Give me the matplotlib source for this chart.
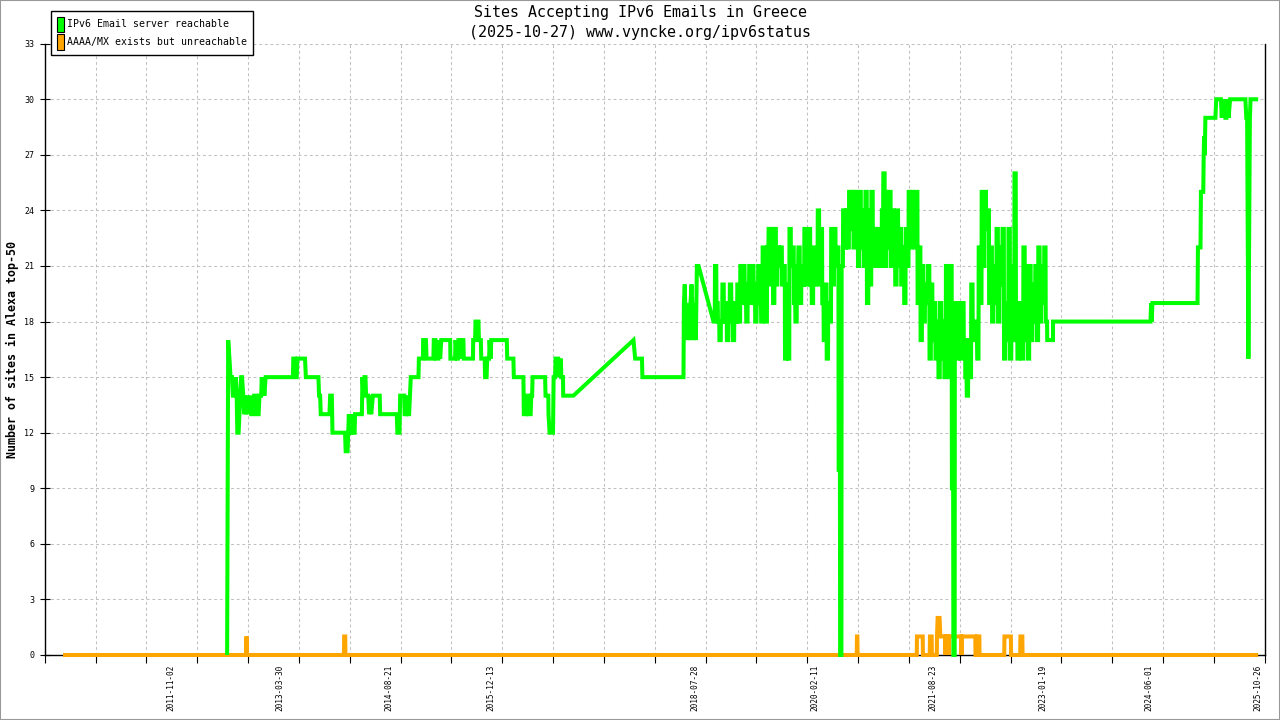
import numpy as np
import matplotlib
matplotlib.use("Agg")
import matplotlib.pyplot as plt
import matplotlib.dates as mdates
from matplotlib.patches import Patch, Rectangle

# ---------------- data ----------------
START_DATE = "2010-06-13"          # day 0 of the series

# sparse readings (day offset from START_DATE, sites reachable)
green_days_a = [
    771, 776, 782, 787, 794, 798, 808, 812, 816, 819,
    825, 829, 832, 837, 841, 847, 851, 855, 860, 865,
    871, 879, 884, 894, 898, 907, 912, 919, 923, 931,
    934, 938, 941, 946, 952, 1080, 1082, 1090, 1094, 1098,
    1101, 1137, 1141, 1200, 1203, 1208, 1211, 1252, 1255, 1263,
    1266, 1325, 1328, 1337, 1340, 1343, 1346, 1354, 1357, 1360,
    1370, 1372, 1404, 1407, 1411, 1416, 1421, 1424, 1434, 1438,
    1443, 1448, 1456, 1488, 1490, 1568, 1571, 1581, 1584, 1603,
    1605, 1612, 1614, 1618, 1626, 1630, 1634, 1670, 1672, 1691,
    1692, 1705, 1708, 1740, 1742, 1750, 1752, 1764, 1766, 1772,
    1777, 1819, 1820, 1842, 1844, 1852, 1856, 1858, 1866, 1867,
    1875, 1881, 1883, 1926, 1927, 1936, 1938, 1952, 1954, 1963,
    1965, 1981, 1983, 1990, 1993, 2002, 2004, 2009, 2012, 2085,
    2087, 2116, 2118, 2163, 2165, 2176, 2179, 2186, 2187, 2197,
    2200, 2204, 2206, 2265, 2267, 2280, 2281, 2286, 2302, 2303,
    2305, 2312, 2314, 2326, 2328, 2339, 2341, 2349, 2350, 2398,
    2680, 2688, 2720, 2722, 2915, 2917, 2921, 2925, 2928, 2935,
    2940, 2945, 2948, 2953, 2958, 2963, 2968, 2973, 2978, 2986,
]
green_vals_a = [
    0, 17, 16, 15, 15, 14, 14, 15, 14, 12,
    12, 13, 14, 15, 15, 14, 13, 14, 13, 14,
    13, 14, 13, 13, 14, 14, 13, 13, 14, 14,
    15, 14, 15, 14, 15, 15, 16, 16, 15, 15,
    16, 16, 15, 15, 14, 14, 13, 13, 14, 14,
    12, 12, 11, 11, 12, 13, 12, 12, 13, 12,
    12, 13, 13, 15, 14, 15, 15, 14, 14, 13,
    14, 13, 14, 14, 13, 13, 12, 12, 14, 14,
    13, 13, 14, 13, 13, 14, 15, 15, 16, 16,
    17, 17, 16, 16, 17, 17, 16, 16, 17, 16,
    17, 17, 16, 16, 17, 16, 16, 17, 17, 16,
    17, 17, 16, 16, 17, 17, 18, 18, 17, 17,
    16, 16, 15, 15, 16, 16, 17, 16, 17, 17,
    16, 16, 15, 15, 13, 13, 14, 14, 13, 13,
    14, 14, 15, 15, 14, 14, 13, 12, 12, 13,
    15, 15, 16, 16, 15, 16, 15, 15, 14, 14,
    17, 16, 16, 15, 15, 19, 20, 18, 19, 17,
    19, 17, 19, 20, 18, 17, 19, 17, 21, 21,
]

# dense period: weekly readings starting at day 3056
weekly_start_day = 3056
green_weekly = [
    18, 21, 19, 18, 17, 18, 20, 18, 19, 17,
    18, 20, 19, 17, 19, 18, 20, 18, 21, 19,
    21, 19, 18, 20, 21, 19, 21, 20, 18, 19,
    21, 19, 18, 22, 20, 18, 22, 23, 20, 23,
    19, 23, 20, 22, 21, 22, 20, 21, 16, 20,
    16, 23, 21, 22, 19, 18, 21, 22, 19, 21,
    20, 23, 20, 22, 23, 20, 19, 22, 20, 21,
    24, 20, 23, 19, 17, 20, 16, 19, 18, 23,
    20, 23, 21, 22, 10, 0, 21, 24, 22, 24,
    22, 25, 23, 25, 22, 25, 23, 21, 25, 22,
    24, 21, 25, 19, 24, 20, 25, 21, 23, 21,
    23, 22, 21, 24, 26, 21, 25, 22, 25, 21,
    24, 22, 20, 24, 21, 23, 20, 22, 19, 23,
    21, 25, 22, 25, 23, 22, 25, 19, 22, 17,
    21, 18, 20, 19, 21, 16, 20, 17, 19, 16,
    18, 15, 19, 16, 18, 15, 21, 17, 15, 21,
    9, 0, 19, 16, 19, 17, 16, 19, 17, 15,
    14, 17, 15, 20, 17, 18, 17, 16, 22, 19,
    25, 21, 25, 23, 24, 19, 22, 18, 21, 19,
    23, 18, 22, 20, 23, 16, 19, 17, 23, 16,
    21, 17, 26, 19, 16, 19, 17, 16, 22, 17,
    21, 16, 21, 17, 20, 18, 21, 17, 22, 18,
    21, 19, 22, 18, 17, 17, 17, 17,
]

green_days_b = [4651, 5109, 5112, 5115, 5118, 5330, 5332, 5344, 5346, 5357,
                5359, 5361, 5364, 5367, 5414, 5418, 5440, 5444, 5447, 5452,
                5457, 5461, 5466, 5471, 5476, 5483, 5555, 5559, 5563, 5566,
                5569, 5573, 5576, 5579, 5615]
green_vals_b = [18, 18, 19, 18, 19, 19, 22, 22, 25, 25,
                27, 28, 27, 29, 29, 30, 30, 29, 30, 29,
                30, 29, 29, 30, 29, 30, 30, 29, 29, 23,
                16, 23, 29, 30, 30]

orange_days = [0, 861, 862, 863, 1320, 1321, 1326, 1327, 3729, 3730,
               3732, 3733, 4011, 4012, 4039, 4040, 4072, 4073, 4081, 4082,
               4105, 4106, 4109, 4118, 4122, 4144, 4145, 4146, 4160, 4161,
               4162, 4220, 4221, 4222, 4286, 4287, 4293, 4294, 4305, 4306,
               4422, 4423, 4453, 4454, 4497, 4498, 4507, 4508, 5615]
orange_vals = [0, 0, 1, 0, 0, 1, 1, 0, 0, 1,
               1, 0, 0, 1, 1, 0, 0, 1, 1, 0,
               0, 1, 2, 2, 1, 1, 0, 1, 1, 0,
               1, 1, 0, 1, 1, 0, 0, 1, 1, 0,
               0, 1, 1, 0, 0, 1, 1, 0, 0]

x_labels = ["2011-11-02", "2013-03-30", "2014-08-21", "2015-12-13", "2018-07-28",
            "2020-02-11", "2021-08-23", "2023-01-19", "2024-06-01", "2025-10-26"]
y_ticks = [0, 3, 6, 9, 12, 15, 18, 21, 24, 27, 30, 33]

title_lines = ["Sites Accepting IPv6 Emails in Greece",
               "(2025-10-27) www.vyncke.org/ipv6status"]
legend_labels = ["IPv6 Email server reachable", "AAAA/MX exists but unreachable"]
y_label = "Number of sites in Alexa top-50"

# ---------------- style ----------------
GREEN = "#00ff00"
ORANGE = "#ffa500"
GRID = "#c0c0c0"
plt.rcParams["font.family"] = ["DejaVu Sans Mono"]

W, H = 1280, 720
base = mdates.date2num(np.datetime64(START_DATE))

# weekly readings are held for the week (step shape)
wk_days = weekly_start_day + 7 * np.arange(len(green_weekly))
wk_x = np.column_stack([wk_days, wk_days + 6]).ravel()
wk_y = np.repeat(np.array(green_weekly), 2)

g_x = base + np.concatenate([green_days_a, wk_x, green_days_b])
g_y = np.concatenate([green_vals_a, wk_y, green_vals_b])
o_x = base + np.array(orange_days)
o_y = np.array(orange_vals)

fig = plt.figure(figsize=(W / 100, H / 100), dpi=100)
left, right, top, bottom = 44.8, 1264.7, 43.7, 655.0
ax = fig.add_axes([left / W, 1 - bottom / H, (right - left) / W, (bottom - top) / H])

LW = 2.9
ax.plot(o_x, o_y, color=ORANGE, lw=LW, zorder=3, clip_on=False,
        solid_joinstyle="miter", solid_capstyle="butt")
ax.plot(g_x, g_y, color=GREEN, lw=LW, zorder=4, clip_on=False,
        solid_joinstyle="miter", solid_capstyle="butt")

x0 = base - 85.5
x1 = base + 5645.6
ax.set_xlim(x0, x1)
ax.set_ylim(0, 33)

# y axis
ax.set_yticks(y_ticks)
ax.tick_params(axis="y", direction="inout", length=7.2, width=0.8,
               labelsize=6, pad=4)
# x axis: labels at dates, grid/ticks on regular minor ticks
label_pos = [mdates.date2num(np.datetime64(s)) for s in x_labels]
ax.set_xticks(label_pos)
ax.set_xticklabels(x_labels, rotation=90, fontsize=5.6, va="top", ha="center")
ax.tick_params(axis="x", which="major", length=0, pad=7)
step = (x1 - x0) / 24
ax.set_xticks([x0 + step * k for k in range(25)], minor=True)
ax.tick_params(axis="x", which="minor", direction="out", length=5.8, width=0.8)

ls = (0, (2.7, 2.7))
ax.grid(False)
ax.yaxis.grid(True, color=GRID, linestyle=ls, linewidth=0.75)
ax.xaxis.grid(True, which="minor", color=GRID, linestyle=ls, linewidth=0.75)
ax.set_axisbelow(True)

ax.spines["top"].set_visible(False)
for s in ("left", "bottom", "right"):
    ax.spines[s].set_color("black")
    ax.spines[s].set_linewidth(1.0)

# titles and labels
fig.text(0.5, 1 - 13 / H, title_lines[0], ha="center", va="center", fontsize=10.8)
fig.text(0.5, 1 - 32 / H, title_lines[1], ha="center", va="center", fontsize=10.8)
fig.text(12 / W, 1 - 349 / H, y_label, rotation=90, ha="center", va="center",
         fontsize=8.4, fontweight="bold")

handles = [Patch(facecolor=GREEN, edgecolor="black", linewidth=0.8),
           Patch(facecolor=ORANGE, edgecolor="black", linewidth=0.8)]
leg = fig.legend(handles, legend_labels, loc="upper left",
                 bbox_to_anchor=(50.7 / W, 1 - 10.7 / H), bbox_transform=fig.transFigure,
                 fontsize=7.1, frameon=True, fancybox=False, framealpha=1,
                 edgecolor="black", borderpad=0.6, handlelength=0.7,
                 handleheight=2.0, handletextpad=0.4, labelspacing=0.25,
                 borderaxespad=0)
leg.get_frame().set_linewidth(1.0)

fig.patches.append(Rectangle((0, 0), 1, 1, transform=fig.transFigure, fill=False,
                             edgecolor="#999999", linewidth=1.5))

fig.savefig("out.png", dpi=100)
